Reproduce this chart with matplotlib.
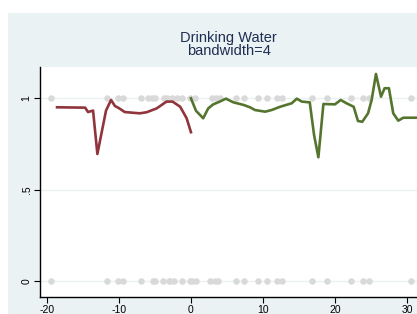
import numpy as np
import matplotlib.pyplot as plt
from matplotlib.patches import Rectangle

# binned observations (outcome 0/1) shown as grey dots
x_dots_one = [-19.5, -11.6, -10.2, -9.5, -7.0, -6.0, -5.4, -5.0, -3.8, -3.3, -2.7,
              -2.0, -1.3, -0.1, 0.55, 2.9, 3.5, 4.0, 6.25, 7.4, 9.3, 10.5, 11.9,
              12.7, 16.8, 18.9, 22.2, 23.9, 24.7, 30.6]
x_dots_zero = [-19.4, -11.6, -10.2, -9.5, -7.0, -5.3, -5.0, -3.9, -3.1, -2.9, -2.3,
               -1.3, -0.2, 0.1, 0.7, 2.6, 3.3, 3.8, 6.25, 7.4, 9.3, 10.5, 11.9,
               12.7, 16.8, 18.9, 22.2, 23.9, 24.7, 30.6]

# local fit left of the cutoff
x_left = [-18.6, -14.7, -14.3, -13.6, -13.0, -11.8, -11.1, -10.56, -9.95, -9.2,
          -7.1, -6.15, -4.76, -3.4, -2.55, -1.5, -0.6, 0.0]
y_left = [0.949, 0.947, 0.923, 0.931, 0.694, 0.931, 0.989, 0.956, 0.943, 0.923,
          0.916, 0.922, 0.943, 0.98, 0.98, 0.952, 0.889, 0.813]

# local fit right of the cutoff
x_right = [0.0, 0.7, 1.7, 2.4, 3.1, 4.0, 4.86, 5.9, 7.3, 8.2, 8.9, 10.3, 11.2,
           12.4, 14.0, 14.7, 15.4, 16.5, 17.1, 17.7, 18.4, 20.0, 20.8, 21.6,
           22.6, 23.2, 23.8, 24.6, 25.1, 25.7, 26.4, 26.9, 27.5, 28.1, 28.8,
           29.5, 30.6, 31.5]
y_right = [0.998, 0.93, 0.889, 0.943, 0.965, 0.98, 0.996, 0.976, 0.962, 0.949,
           0.934, 0.925, 0.934, 0.952, 0.971, 0.996, 0.98, 0.976, 0.798, 0.676,
           0.967, 0.965, 0.989, 0.971, 0.952, 0.874, 0.87, 0.916, 0.989, 1.131,
           1.007, 1.053, 1.053, 0.916, 0.876, 0.892, 0.892, 0.892]

xticks = [-20, -10, 0, 10, 20, 30]
yticks = [0, 0.5, 1]
yticklabels = ['0', '.5', '1']

bg = '#EAF2F3'
fig = plt.figure(figsize=(4.17, 3.14), dpi=100)
fig.patch.set_facecolor('white')
fig.patches.append(Rectangle((8 / 417, 0), 1, 1 - 13 / 314, transform=fig.transFigure,
                             facecolor=bg, edgecolor='none', zorder=-5))

ax = fig.add_axes([40 / 417, 1 - 297 / 314, 1 - 40 / 417, (297 - 67) / 314])
ax.set_zorder(1)
ax.set_facecolor('white')
ax.set_xlim(-20.97, 31.4)
ax.set_ylim(-0.087, 1.169)

for yv in yticks:
    ax.axhline(yv, color=bg, lw=1.0, zorder=1)

ax.scatter(x_dots_one, np.ones(len(x_dots_one)), s=22, color='#D9D9D9', lw=0, zorder=2)
ax.scatter(x_dots_zero, np.zeros(len(x_dots_zero)), s=22, color='#D9D9D9', lw=0, zorder=2)

ax.plot(x_left, y_left, color='#90353B', lw=1.9, zorder=3)
ax.plot(x_right, y_right, color='#55752F', lw=1.9, zorder=3)

for s in ['top', 'right']:
    ax.spines[s].set_visible(False)
for s in ['left', 'bottom']:
    ax.spines[s].set_color('black')
    ax.spines[s].set_linewidth(1.0)

ax.set_xticks(xticks)
ax.set_xticklabels([str(t) for t in xticks], fontsize=7.5, family='Liberation Sans')
ax.set_yticks(yticks)
ax.set_yticklabels(yticklabels, fontsize=7.5, family='Liberation Sans',
                   rotation=90, va='center')
ax.tick_params(length=4, width=0.8, color='black', pad=2)

ax.set_title('Drinking Water\nbandwidth=4', fontsize=10.5, family='Liberation Sans',
             color='#1E2D53', pad=9, linespacing=0.9)

fig.savefig('out.png', dpi=100, facecolor=fig.get_facecolor())
